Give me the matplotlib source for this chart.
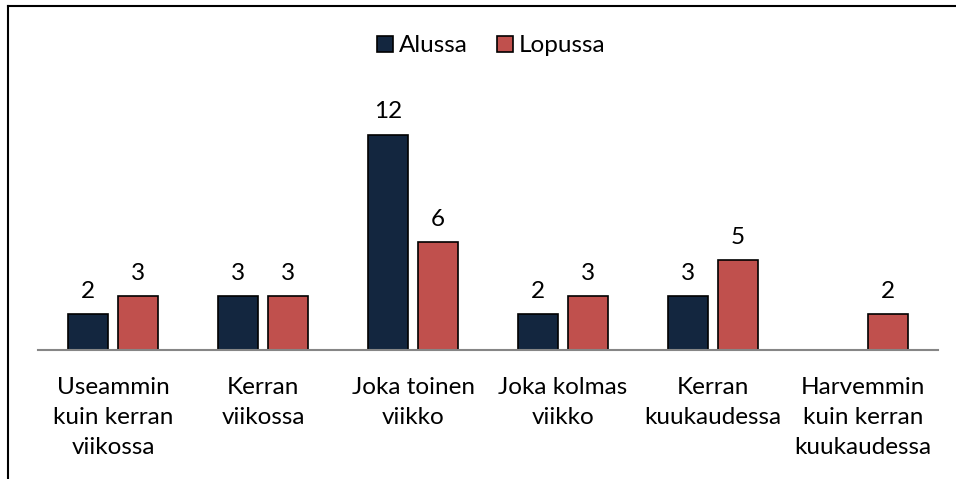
import matplotlib.pyplot as plt
import numpy as np
from matplotlib.lines import Line2D

categories = [
    "Useammin\nkuin kerran\nviikossa",
    "Kerran\nviikossa",
    "Joka toinen\nviikko",
    "Joka kolmas\nviikko",
    "Kerran\nkuukaudessa",
    "Harvemmin\nkuin kerran\nkuukaudessa",
]
alussa = [2, 3, 12, 2, 3, 0]
lopussa = [3, 3, 6, 3, 5, 2]
series_names = ["Alussa", "Lopussa"]

plt.rcParams["font.family"] = ["Lato", "DejaVu Sans"]

fig = plt.figure(figsize=(9.56, 4.79), dpi=100)
ax = fig.add_axes([38 / 956, 129 / 479, 900 / 956, 251 / 479])

x = np.arange(len(categories))
w = 0.267
off = 0.167
b1 = ax.bar(x - off, alussa, w, color="#13263F", edgecolor="black", linewidth=1.2, label=series_names[0])
b2 = ax.bar(x + off, lopussa, w, color="#C0504D", edgecolor="black", linewidth=1.2, label=series_names[1])

for bars, vals in ((b1, alussa), (b2, lopussa)):
    for rect, v in zip(bars, vals):
        if v == 0:
            continue
        ax.annotate(str(v), (rect.get_x() + rect.get_width() / 2, v),
                    xytext=(0, 9), textcoords="offset points",
                    ha="center", va="bottom", fontsize=17.5)

ax.set_xlim(-0.5, len(categories) - 0.5)
ax.set_ylim(0, 14)
ax.set_yticks([])
ax.set_xticks(x)
ax.set_xticklabels(categories, fontsize=17.5, linespacing=1.52)
ax.tick_params(axis="x", length=0, pad=19.5)
for s in ("top", "right", "left"):
    ax.spines[s].set_visible(False)
ax.spines["bottom"].set_color("#868686")
ax.spines["bottom"].set_linewidth(1.5)

fig.legend(handles=[b1, b2], loc="center", bbox_to_anchor=(491 / 956, 1 - 46 / 479),
           ncol=2, frameon=False, fontsize=17.5, handlelength=0.65, handleheight=0.65,
           handletextpad=0.25, columnspacing=1.2)

# outer frame: left and top edges only
fig.add_artist(Line2D([8 / 956, 8 / 956], [0, 1 - 6 / 479], transform=fig.transFigure,
                      color="black", linewidth=1.5))
fig.add_artist(Line2D([8 / 956, 1], [1 - 6 / 479, 1 - 6 / 479], transform=fig.transFigure,
                      color="black", linewidth=1.5))

fig.savefig("out.png", dpi=100)
